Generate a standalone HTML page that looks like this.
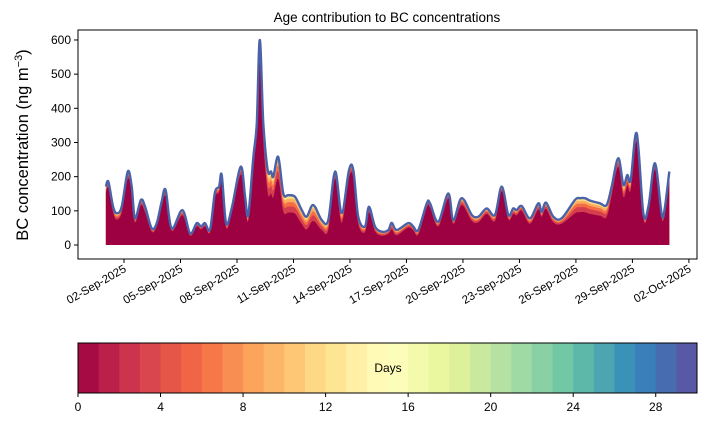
<!DOCTYPE html>
<html><head><meta charset="utf-8"><style>
body{margin:0;background:#fff;}
svg{display:block;font-family:"Liberation Sans","DejaVu Sans",sans-serif;}
</style></head><body>
<svg id="chart" width="707" height="425" viewBox="0 0 707 425">
<text x="387" y="22" text-anchor="middle" font-size="13.5">Age contribution to BC concentrations</text>
<text transform="translate(28,145) rotate(-90)" text-anchor="middle" font-size="16.5">BC concentration (ng m<tspan dy="-6" font-size="11">−3</tspan><tspan dy="6">)</tspan></text>
<g id="plot"></g>
<g id="cbar"></g>
</svg>
<script>
const times=[1.04,1.17,1.42,1.61,1.88,2.20,2.41,2.58,2.90,3.12,3.47,3.74,4.00,4.21,4.53,5.10,5.51,5.86,6.09,6.30,6.57,6.83,7.05,7.19,7.42,7.72,8.20,8.43,8.60,8.87,9.05,9.21,9.40,9.63,9.81,9.93,10.19,10.46,10.73,11.08,11.44,11.70,12.05,12.50,12.85,13.21,13.56,13.95,14.18,14.44,14.80,15.01,15.33,15.69,16.04,16.22,16.48,17.10,17.36,17.63,18.08,18.25,18.69,19.22,19.49,19.93,20.47,20.82,21.26,21.70,22.06,22.41,22.67,22.85,23.12,23.56,24.00,24.18,24.41,24.80,25.24,25.95,26.22,26.48,26.75,27.28,27.63,27.90,28.25,28.52,28.73,28.91,29.23,29.58,29.85,30.20,30.56,30.73,30.96];
const totals=[171,185,112,93,112,215,171,78,132,112,49,64,127,161,49,102,34,64,54,64,46,153,171,205,64,107,229,141,88,258,356,600,356,219,215,200,258,151,146,141,102,83,117,73,73,215,93,219,219,83,54,112,54,39,44,65,44,64,54,44,122,122,68,151,73,137,88,83,107,88,171,88,107,102,114,78,122,97,124,83,78,132,137,137,130,122,117,171,254,176,205,190,327,93,112,239,88,112,215];
const agedShare=[0.1,0.1,0.15,0.2,0.15,0.1,0.1,0.15,0.12,0.15,0.2,0.15,0.12,0.12,0.15,0.15,0.2,0.15,0.15,0.15,0.2,0.1,0.1,0.1,0.2,0.12,0.1,0.12,0.2,0.12,0.08,0.06,0.15,0.3,0.3,0.3,0.25,0.35,0.35,0.35,0.4,0.45,0.4,0.4,0.4,0.1,0.3,0.1,0.1,0.25,0.3,0.15,0.25,0.3,0.25,0.3,0.35,0.2,0.2,0.3,0.1,0.1,0.2,0.1,0.15,0.15,0.2,0.2,0.15,0.2,0.08,0.15,0.15,0.15,0.12,0.2,0.15,0.15,0.15,0.2,0.2,0.3,0.3,0.3,0.3,0.3,0.3,0.15,0.1,0.2,0.15,0.15,0.08,0.15,0.12,0.08,0.12,0.1,0.08];
const yTicks=[0,100,200,300,400,500,600];
const xTickDays=[2,5,8,11,14,17,20,23,26,29,32];
const xTickLabels=["02-Sep-2025","05-Sep-2025","08-Sep-2025","11-Sep-2025","14-Sep-2025","17-Sep-2025","20-Sep-2025","23-Sep-2025","26-Sep-2025","29-Sep-2025","02-Oct-2025"];
const cbTicks=[0,4,8,12,16,20,24,28];

const NS="http://www.w3.org/2000/svg";
const X0=78,X1=697,Y0=30,Y1=259;
const xs=t=>124+(t-2)*18.83;
const ys=v=>245-v*0.3417;
function mk(tag,attrs,parent){const e=document.createElementNS(NS,tag);for(const k in attrs)e.setAttribute(k,attrs[k]);parent.appendChild(e);return e;}
function smooth(pts){
  let d='M'+pts[0][0].toFixed(1)+','+pts[0][1].toFixed(1);
  for(let i=0;i<pts.length-1;i++){
    const p0=pts[Math.max(0,i-1)],p1=pts[i],p2=pts[i+1],p3=pts[Math.min(pts.length-1,i+2)];
    const c1=[p1[0]+(p2[0]-p0[0])/6,p1[1]+(p2[1]-p0[1])/6];
    const c2=[p2[0]-(p3[0]-p1[0])/6,p2[1]-(p3[1]-p1[1])/6];
    d+=' C'+c1[0].toFixed(1)+','+Math.min(245,c1[1]).toFixed(1)+' '+c2[0].toFixed(1)+','+Math.min(245,c2[1]).toFixed(1)+' '+p2[0].toFixed(1)+','+p2[1].toFixed(1);
  }
  return d;
}
const plot=document.getElementById('plot');
const layerColors=['#9e0142','#d53e4f','#f46d43','#fdae61','#fee08b','#abdda4','#3288bd'];
const layerShares=[0.35,0.25,0.2,0.12,0.04,0.04];
function frac(i,k){
  let f=1-agedShare[i];
  for(let j=0;j<k;j++)f+=agedShare[i]*layerShares[j];
  return f;
}
for(let k=layerColors.length-1;k>=0;k--){
  const pts=[];
  for(let i=0;i<times.length;i++){
    const f=k===layerColors.length-1?1:frac(i,k);
    pts.push([xs(times[i]),ys(totals[i]*f)]);
  }
  let d=smooth(pts);
  d+=' L'+xs(times[times.length-1]).toFixed(1)+','+ys(0)+' L'+xs(times[0]).toFixed(1)+','+ys(0)+' Z';
  const p=mk('path',{d:d,fill:layerColors[k],stroke:'none'},plot);
  
  
}
const lpts=times.map((t,i)=>[xs(t),ys(totals[i])]);
const line=mk('path',{d:smooth(lpts),fill:'none',stroke:'#4a62a8','stroke-width':2.4,'stroke-linejoin':'round'},plot);


const frame=mk('rect',{x:X0,y:Y0,width:X1-X0,height:Y1-Y0,fill:'none',stroke:'#000','stroke-width':1},plot);


yTicks.forEach(v=>{
  mk('line',{x1:X0-4,x2:X0,y1:ys(v),y2:ys(v),stroke:'#000'},plot);
  const t=mk('text',{x:X0-7,y:ys(v)+4,'text-anchor':'end','font-size':12},plot);
  t.textContent=v;
  
  
});
xTickDays.forEach((d,i)=>{
  const x=xs(d);
  mk('line',{x1:x,x2:x,y1:Y1,y2:Y1+4,stroke:'#000'},plot);
  const t=mk('text',{x:x+3,y:Y1+12,'text-anchor':'end','font-size':11.5,transform:'rotate(-30 '+(x+3)+' '+(Y1+12)+')'},plot);
  t.textContent=xTickLabels[i];
  
  
});
const cb=document.getElementById('cbar');
const spec=['#9e0142','#d53e4f','#f46d43','#fdae61','#fee08b','#ffffbf','#e6f598','#abdda4','#66c2a5','#3288bd','#5e4fa2'];
function hex(h){return [1,3,5].map(i=>parseInt(h.substr(i,2),16));}
function cmap(u){const p=u*10,i=Math.min(9,Math.floor(p)),f=p-i;const a=hex(spec[i]),b=hex(spec[i+1]);return 'rgb('+a.map((c,j)=>Math.round(c+(b[j]-c)*f)).join(',')+')';}
const CX0=78,CX1=697,CY0=343,CY1=393,bw=(CX1-CX0)/30;
for(let i=0;i<30;i++){
  const r=mk('rect',{x:CX0+i*bw,y:CY0,width:bw+0.5,height:CY1-CY0,fill:cmap((i+0.5)/30)},cb);
  
  
}
mk('rect',{x:CX0,y:CY0,width:CX1-CX0,height:CY1-CY0,fill:'none',stroke:'#000'},cb);
const dt=mk('text',{x:388,y:372,'text-anchor':'middle','font-size':12},cb);
dt.textContent='Days';


cbTicks.forEach(v=>{
  const x=CX0+v/30*(CX1-CX0);
  mk('line',{x1:x,x2:x,y1:CY1,y2:CY1+4,stroke:'#000'},cb);
  const t=mk('text',{x:x,y:CY1+18,'text-anchor':'middle','font-size':12},cb);
  t.textContent=v;
  
  
});
</script>
</body></html>
